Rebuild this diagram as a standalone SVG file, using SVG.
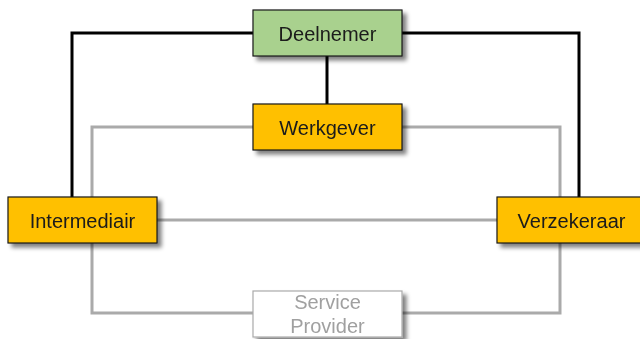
<svg xmlns="http://www.w3.org/2000/svg" width="640" height="339" viewBox="0 0 640 339">
<defs>
<filter id="sh" x="-10%" y="-20%" width="130%" height="150%">
<feGaussianBlur in="SourceAlpha" stdDeviation="2"/>
<feOffset dx="4" dy="4" result="b"/>
<feComponentTransfer><feFuncA type="linear" slope="0.5"/></feComponentTransfer>
<feMerge><feMergeNode/><feMergeNode in="SourceGraphic"/></feMerge>
</filter>
</defs>
<style>
.blk{fill:none;stroke:#000;stroke-width:3}
.gry{fill:none;stroke:#aaaaaa;stroke-width:3}
.box rect{stroke:#1a1a1a;stroke-width:1.2}
.t{font-family:"Liberation Sans",Arial,sans-serif;font-size:20px;fill:#1a1a1a;text-anchor:middle}
</style>
<rect width="640" height="339" fill="#fff"/>
<g id="connectors">
<polyline class="gry" points="92,197 92,127 253,127"/>
<polyline class="gry" points="402,127 560,127 560,197"/>
<line class="gry" x1="157" y1="220" x2="497" y2="220"/>
<polyline class="gry" points="92,243 92,313 253,313"/>
<polyline class="gry" points="402,313 560,313 560,243"/>
<polyline class="blk" points="253,33 72,33 72,197"/>
<polyline class="blk" points="402,33 579,33 579,197"/>
<line class="blk" x1="327" y1="56" x2="327" y2="104"/>
</g>
<g id="deelnemer" class="box" filter="url(#sh)"><rect x="253" y="10" width="149" height="46" fill="#a9d18e"/><text class="t" x="327.5" y="41">Deelnemer</text></g>
<g id="werkgever" class="box" filter="url(#sh)"><rect x="253" y="104" width="149" height="46" fill="#ffc000"/><text class="t" x="327.5" y="135">Werkgever</text></g>
<g id="intermediair" class="box" filter="url(#sh)"><rect x="8" y="197" width="149" height="46" fill="#ffc000"/><text class="t" x="82.5" y="228">Intermediair</text></g>
<g id="verzekeraar" class="box" filter="url(#sh)"><rect x="497" y="197" width="149" height="46" fill="#ffc000"/><text class="t" x="571.5" y="228">Verzekeraar</text></g>
<g id="serviceprovider" filter="url(#sh)"><rect x="253" y="291" width="149" height="46" fill="#fff" stroke="#aaaaaa" stroke-width="1.2"/><text class="t" x="327.5" y="309" style="fill:#a0a0a0">Service</text><text class="t" x="327.5" y="333" style="fill:#a0a0a0">Provider</text></g>
</svg>
